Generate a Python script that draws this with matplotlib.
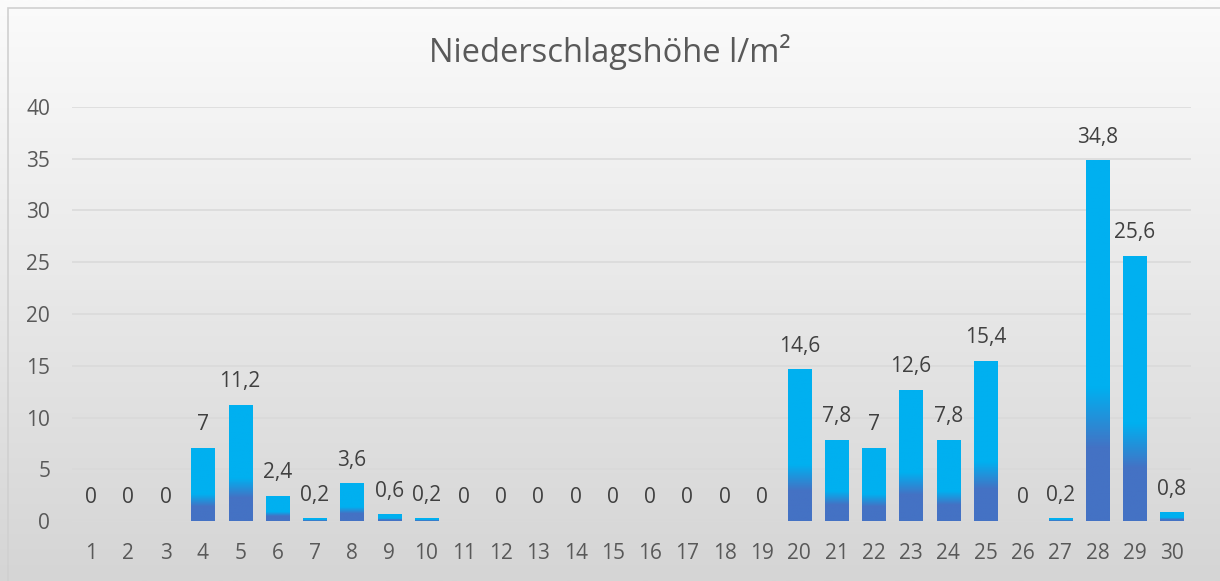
import numpy as np
import matplotlib
matplotlib.use('Agg')
from matplotlib import pyplot as plt
from matplotlib.colors import LinearSegmentedColormap
from matplotlib.patches import Rectangle

plt.rcParams['font.family'] = ['Open Sans', 'DejaVu Sans']

days = list(range(1, 31))
rain = [0, 0, 0, 7, 11.2, 2.4, 0.2, 3.6, 0.6, 0.2,
        0, 0, 0, 0, 0, 0, 0, 0, 0, 14.6,
        7.8, 7, 12.6, 7.8, 15.4, 0, 0.2, 34.8, 25.6, 0.8]
yticks = [0, 5, 10, 15, 20, 25, 30, 35, 40]
title = 'Niederschlagshöhe l/m²'

fig = plt.figure(figsize=(12.2, 5.81), dpi=100)

# background gradient for the whole chart
bg = fig.add_axes([0, 0, 1, 1], zorder=-10)
grad = np.linspace(1, 0, 256).reshape(-1, 1)
bg_cmap = LinearSegmentedColormap.from_list('bg', ['#d5d5d5', '#fbfbfb'])
bg.imshow(grad, cmap=bg_cmap, aspect='auto', extent=(0, 1, 0, 1), origin='upper')
bg.add_patch(Rectangle((8 / 1220, -0.1), 1.2, 1.1 - 8 / 581, fill=False,
                       edgecolor='#d0d0d0', lw=1.2, transform=bg.transAxes))
bg.set_xlim(0, 1), bg.set_ylim(0, 1)
bg.axis('off')

ax = fig.add_axes([72.4 / 1220, 1 - 521 / 581, (1190.6 - 72.4) / 1220, (521 - 107) / 581])
ax.patch.set_alpha(0)

bar_cmap = LinearSegmentedColormap.from_list(
    'bar', [(0, '#4472c4'), (0.2, '#4472c4'), (0.37, '#00b0f0'), (1, '#00b0f0')])
bar_grad = np.linspace(0, 1, 256).reshape(-1, 1)
width = 0.62
bars = ax.bar(days, rain, width=width, color='none', zorder=3)
for b in bars:
    h = b.get_height()
    if h <= 0:
        continue
    x0 = b.get_x()
    ax.imshow(bar_grad, cmap=bar_cmap, aspect='auto', origin='lower',
              extent=(x0, x0 + b.get_width(), 0, h), zorder=3)

for d, v in zip(days, rain):
    lab = ('%g' % v).replace('.', ',')
    ax.annotate(lab, (d, v), xytext=(0, 9.5), textcoords='offset points',
                ha='center', va='bottom', fontsize=15, color='#404040')

ax.set_xlim(0.5, 30.5)
ax.set_ylim(0, 40)
ax.set_yticks(yticks)
ax.set_xticks(days)
ax.grid(axis='y', color='#d9d9d9', lw=1.1, zorder=0)
ax.set_axisbelow(True)
for s in ['top', 'right', 'left']:
    ax.spines[s].set_visible(False)
ax.spines['bottom'].set_color('#d9d9d9')
ax.tick_params(length=0, labelsize=15, colors='#595959')
ax.tick_params(axis='y', pad=16)
ax.tick_params(axis='x', pad=16)

fig.text(0.5, 1 - 52 / 581, title, ha='center', va='center', fontsize=23.5, color='#595959')

fig.savefig('out.png', dpi=100)
